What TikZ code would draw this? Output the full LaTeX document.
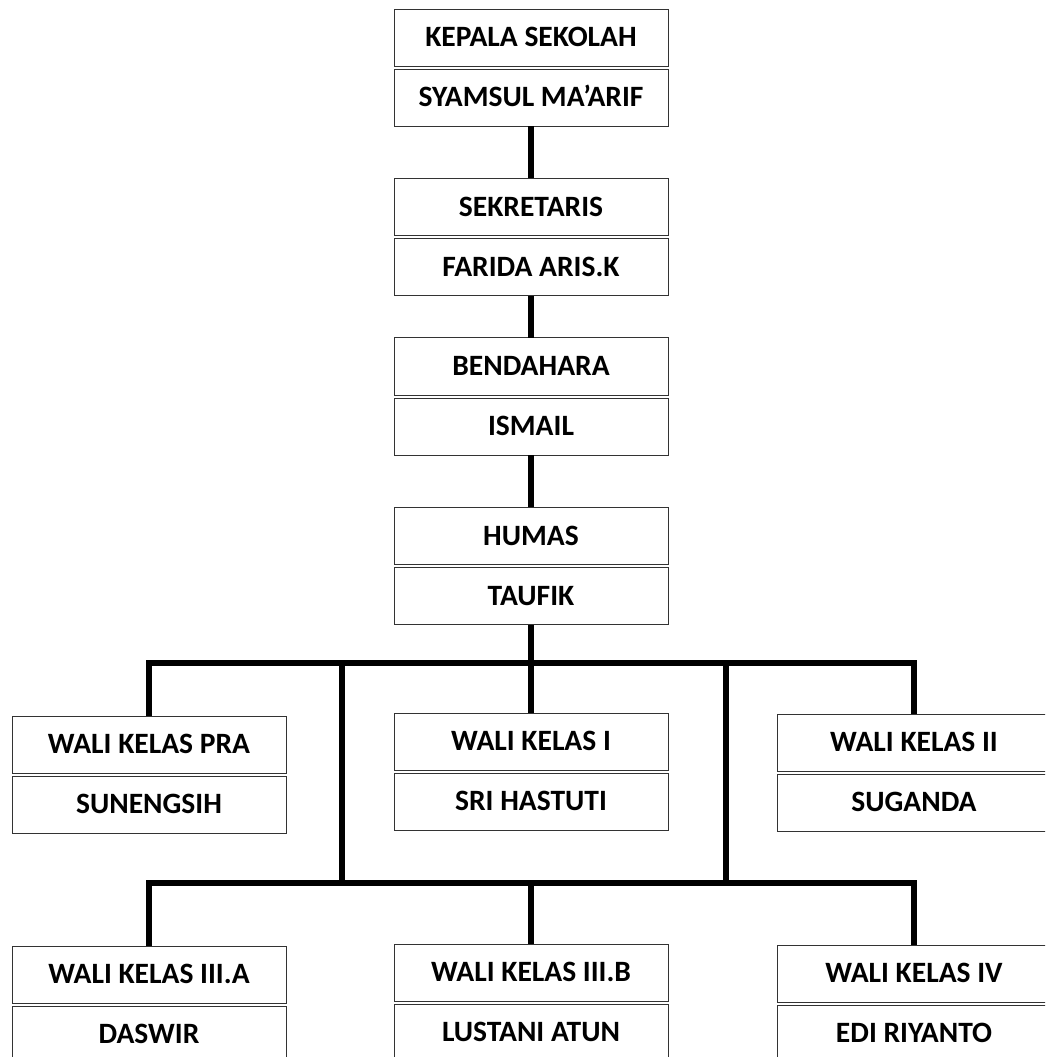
\documentclass[tikz,border=0pt]{standalone}
\usepackage{fontspec}
\setsansfont{Carlito}
\usetikzlibrary{positioning}

\begin{document}
\begin{tikzpicture}[x=0.025cm,y=-0.025cm,font=\sffamily\bfseries\fontsize{21}{25}\selectfont,
	jabatan/.style={minimum width=6.85cm,minimum height=1.43cm,outer sep=0pt,draw=black!80,line width=0.6pt,text height=13pt,text depth=0pt},
	garis/.style={line width=3.6pt}]
	\useasboundingbox (0,0) rectangle (1045,1057);
	\clip (0,0) rectangle (1045,1057);

	% kolom tengah
	\node [jabatan,anchor=north] at (531,9) (kepala_jab) {KEPALA SEKOLAH};
	\node [jabatan,below=0.075cm of kepala_jab] (kepala_nama) {SYAMSUL MA’ARIF};

	\node [jabatan,below=1.3cm of kepala_nama] (sekre_jab) {SEKRETARIS};
	\node [jabatan,below=0.075cm of sekre_jab] (sekre_nama) {FARIDA ARIS.K};

	\node [jabatan,below=1.05cm of sekre_nama] (benda_jab) {BENDAHARA};
	\node [jabatan,below=0.075cm of benda_jab] (benda_nama) {ISMAIL};

	\node [jabatan,below=1.3cm of benda_nama] (humas_jab) {HUMAS};
	\node [jabatan,below=0.075cm of humas_jab] (humas_nama) {TAUFIK};

	% wali kelas baris 1
	\node [jabatan,anchor=north] at (149,716) (wk_pra_jab) {WALI KELAS PRA};
	\node [jabatan,below=0.075cm of wk_pra_jab] (wk_pra_nama) {SUNENGSIH};

	\node [jabatan,anchor=north] at (531,713) (wk_1_jab) {WALI KELAS I};
	\node [jabatan,below=0.075cm of wk_1_jab] (wk_1_nama) {SRI HASTUTI};

	\node [jabatan,anchor=north] at (914,714) (wk_2_jab) {WALI KELAS II};
	\node [jabatan,below=0.075cm of wk_2_jab] (wk_2_nama) {SUGANDA};

	% wali kelas baris 2
	\node [jabatan,anchor=north] at (149,946) (wk_3a_jab) {WALI KELAS III.A};
	\node [jabatan,below=0.075cm of wk_3a_jab] (wk_3a_nama) {DASWIR};

	\node [jabatan,anchor=north] at (531,944) (wk_3b_jab) {WALI KELAS III.B};
	\node [jabatan,below=0.075cm of wk_3b_jab] (wk_3b_nama) {LUSTANI ATUN};

	\node [jabatan,anchor=north] at (914,945) (wk_4_jab) {WALI KELAS IV};
	\node [jabatan,below=0.075cm of wk_4_jab] (wk_4_nama) {EDI RIYANTO};

	% garis penghubung
	\coordinate (bar_atas) at (531,663);
	\coordinate (bar_bawah) at (531,883);
	\coordinate (tiang_kiri_atas) at (342,663);
	\coordinate (tiang_kiri_bawah) at (342,883);
	\coordinate (tiang_kanan_atas) at (726,663);
	\coordinate (tiang_kanan_bawah) at (726,883);

	\draw [garis] (kepala_nama) -- (sekre_jab);
	\draw [garis] (sekre_nama) -- (benda_jab);
	\draw [garis] (benda_nama) -- (humas_jab);
	\draw [garis] (humas_nama) -- (wk_1_jab);
	\draw [garis] (wk_pra_jab.north) |- (bar_atas) -| (wk_2_jab.north);
	\draw [garis] (tiang_kiri_atas) -- (tiang_kiri_bawah);
	\draw [garis] (tiang_kanan_atas) -- (tiang_kanan_bawah);
	\draw [garis] (wk_3a_jab.north) |- (bar_bawah) -| (wk_4_jab.north);
	\draw [garis] (bar_bawah) -- (wk_3b_jab);
\end{tikzpicture}
\end{document}
